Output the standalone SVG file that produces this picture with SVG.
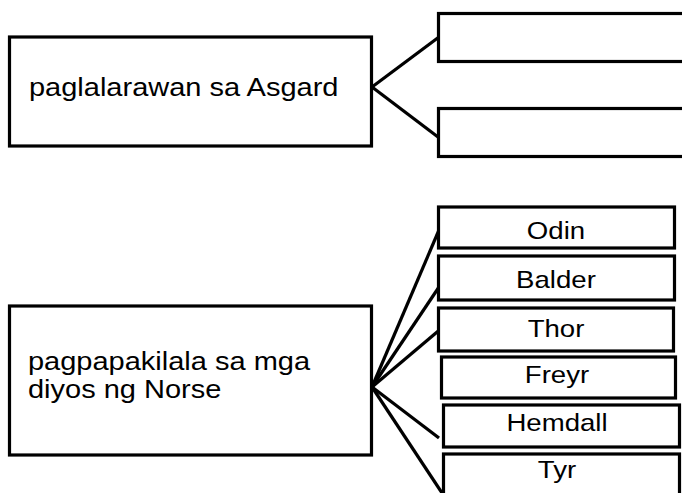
<svg xmlns="http://www.w3.org/2000/svg" width="682" height="493" viewBox="0 0 682 493">
<style>
.box{fill:#fff;stroke:#000;stroke-width:3.2}
.ln{stroke:#000;stroke-width:3.2;fill:none;stroke-linecap:butt}
.t{font-family:"Liberation Sans",Arial,sans-serif;font-size:25px;fill:#000}
.c{font-family:"Liberation Sans",Arial,sans-serif;font-size:24px;fill:#000;text-anchor:middle}
</style>
<rect width="682" height="493" fill="#fff"/>
<g id="connectors">
<line class="ln" x1="372" y1="87" x2="439" y2="37"/>
<line class="ln" x1="372" y1="87" x2="438" y2="137"/>
<line class="ln" x1="372" y1="387" x2="439" y2="230"/>
<line class="ln" x1="372" y1="387" x2="439" y2="287"/>
<line class="ln" x1="372" y1="387" x2="443" y2="327"/>
<line class="ln" x1="372" y1="387" x2="439" y2="438"/>
<line class="ln" x1="372" y1="387" x2="442" y2="493"/>
</g>
<g id="asgard">
<rect class="box" x="9.5" y="37" width="362" height="109"/>
<text class="t" transform="translate(29,96) scale(1.16,1)">paglalarawan sa Asgard</text>
</g>
<g id="asgard-1"><rect class="box" x="438.5" y="13.5" width="260" height="48"/></g>
<g id="asgard-2"><rect class="box" x="438.5" y="108.5" width="260" height="48"/></g>
<g id="norse">
<rect class="box" x="9.5" y="306" width="362" height="149"/>
<text class="t" transform="translate(28,370) scale(1.16,1)">pagpapakilala sa mga</text>
<text class="t" transform="translate(28,398) scale(1.16,1)">diyos ng Norse</text>
</g>
<g id="odin">
<rect class="box" x="438.5" y="207" width="236" height="41"/>
<text class="c" transform="translate(556,239) scale(1.15,1)">Odin</text>
</g>
<g id="balder">
<rect class="box" x="438.5" y="256" width="236" height="44"/>
<text class="c" transform="translate(556,288) scale(1.15,1)">Balder</text>
</g>
<g id="thor">
<rect class="box" x="438.5" y="308" width="235" height="43"/>
<text class="c" transform="translate(556,337) scale(1.15,1)">Thor</text>
</g>
<g id="freyr">
<rect class="box" x="441.5" y="357" width="234" height="41"/>
<text class="c" transform="translate(557,383) scale(1.15,1)">Freyr</text>
</g>
<g id="hemdall">
<rect class="box" x="443.5" y="405" width="236" height="42"/>
<text class="c" transform="translate(557,431) scale(1.15,1)">Hemdall</text>
</g>
<g id="tyr">
<rect class="box" x="443.5" y="454" width="236" height="50"/>
<text class="c" transform="translate(557,478) scale(1.15,1)">Tyr</text>
</g>
</svg>
